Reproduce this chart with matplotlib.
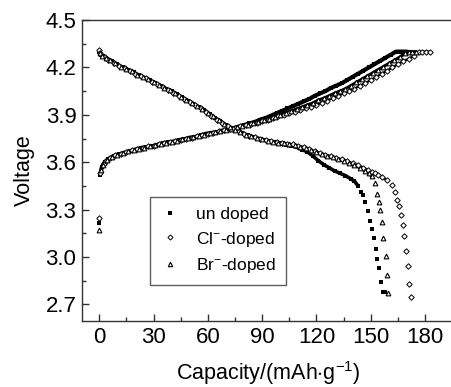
import numpy as np
import matplotlib
matplotlib.use('Agg')
import matplotlib.pyplot as plt
from matplotlib.ticker import MultipleLocator

plt.rcParams['font.family'] = ['Liberation Sans', 'DejaVu Sans']
plt.rcParams['mathtext.fontset'] = 'custom'
plt.rcParams['mathtext.rm'] = 'Liberation Sans'
plt.rcParams['mathtext.it'] = 'Liberation Sans'

# ---- charge curves (capacity, voltage) ----
und_chg_x = [0, 0.5, 1.5, 3, 5, 8, 11, 14, 17, 20, 23, 26, 29, 32, 35, 38, 41, 44, 47,
             50, 53, 56, 59, 62, 65, 68, 71, 74, 77, 80, 83, 86, 89, 92, 95, 98, 101,
             104, 107, 110, 113, 116, 119, 122, 125, 128, 131, 134, 137, 140, 143, 146,
             149, 152, 155, 158, 161, 164, 166, 168, 170]
und_chg_y = [3.216, 3.52, 3.57, 3.60, 3.62, 3.64, 3.65, 3.66, 3.67, 3.68, 3.69, 3.695,
             3.70, 3.71, 3.72, 3.725, 3.73, 3.74, 3.745, 3.755, 3.76, 3.77, 3.78, 3.785,
             3.79, 3.80, 3.81, 3.815, 3.825, 3.835, 3.845, 3.855, 3.87, 3.88, 3.895,
             3.91, 3.925, 3.94, 3.955, 3.97, 3.985, 4.00, 4.02, 4.035, 4.05, 4.07, 4.085,
             4.10, 4.12, 4.14, 4.16, 4.18, 4.20, 4.22, 4.24, 4.26, 4.28, 4.30, 4.30,
             4.30, 4.30]

cl_chg_x = [0, 0.7, 2.5, 4, 6, 9, 12, 15, 18, 21, 24, 27, 30, 33, 36, 39, 42, 45, 48,
            51, 54, 57, 60, 63, 66, 69, 72, 75, 78, 81, 84, 87, 90, 93, 96, 99, 102, 105,
            108, 111, 114, 117, 120, 123, 126, 129, 132, 135, 138, 141, 144, 147, 150,
            153, 156, 159, 162, 165, 168, 171, 174, 176.5, 178.5, 180.5, 182.5]
cl_chg_y = [3.244, 3.53, 3.59, 3.61, 3.625, 3.645, 3.655, 3.665, 3.675, 3.685, 3.69,
            3.70, 3.705, 3.715, 3.72, 3.73, 3.735, 3.74, 3.75, 3.755, 3.765, 3.77, 3.78,
            3.787, 3.795, 3.803, 3.81, 3.818, 3.826, 3.834, 3.842, 3.85, 3.86, 3.868,
            3.88, 3.89, 3.90, 3.91, 3.92, 3.93, 3.94, 3.95, 3.965, 3.975, 3.99, 4.005,
            4.02, 4.035, 4.05, 4.065, 4.085, 4.10, 4.12, 4.14, 4.16, 4.18, 4.20, 4.22,
            4.24, 4.255, 4.275, 4.295, 4.30, 4.30, 4.30]

br_chg_x = [0, 1, 2, 4.5, 7, 10, 13, 16, 19, 22, 25, 28, 31, 34, 37, 40, 43, 46, 49,
            52, 55, 58, 61, 64, 67, 70, 73, 76, 79, 82, 85, 88, 91, 94, 97, 100, 103,
            106, 109, 112, 115, 118, 121, 124, 127, 130, 133, 136, 139, 142, 145, 148,
            151, 154, 157, 160, 163, 166, 169, 171, 173, 175]
br_chg_y = [3.17, 3.55, 3.585, 3.615, 3.635, 3.648, 3.658, 3.668, 3.678, 3.686, 3.692,
            3.70, 3.707, 3.716, 3.723, 3.73, 3.737, 3.745, 3.752, 3.76, 3.767, 3.775,
            3.782, 3.79, 3.797, 3.805, 3.812, 3.82, 3.829, 3.838, 3.847, 3.856, 3.866,
            3.876, 3.888, 3.90, 3.912, 3.925, 3.937, 3.95, 3.962, 3.975, 3.993, 4.005,
            4.02, 4.037, 4.05, 4.065, 4.085, 4.105, 4.125, 4.145, 4.165, 4.185, 4.205,
            4.225, 4.245, 4.265, 4.29, 4.30, 4.30, 4.30]

# ---- discharge curves ----
und_dis_x = [0, 1, 2, 4, 7, 10, 13, 16, 19, 22, 25, 28, 31, 34, 37, 40, 43, 46, 49, 52,
             55, 58, 61, 64, 67, 70, 73, 76, 79, 82, 85, 88, 91, 94, 97, 100, 103, 106,
             109, 112, 115, 118, 121, 124, 127, 130, 133, 136, 139, 141, 143, 144.5,
             145.5, 146.8, 148.3, 149.6, 150.9, 151.8, 152.7, 153.6, 154.7, 155.6, 157,
             157.8]
und_dis_y = [4.30, 4.28, 4.27, 4.26, 4.24, 4.22, 4.20, 4.185, 4.17, 4.15, 4.135, 4.12,
             4.10, 4.085, 4.065, 4.05, 4.03, 4.01, 3.99, 3.97, 3.95, 3.93, 3.905, 3.88,
             3.86, 3.835, 3.815, 3.80, 3.785, 3.77, 3.76, 3.75, 3.74, 3.735, 3.725,
             3.72, 3.71, 3.705, 3.695, 3.68, 3.665, 3.64, 3.61, 3.585, 3.565, 3.545,
             3.53, 3.515, 3.495, 3.48, 3.45, 3.41, 3.39, 3.35, 3.29, 3.23, 3.18, 3.12,
             3.05, 2.99, 2.93, 2.84, 2.78, 2.78]

cl_dis_x = [0, 0.5, 3, 5, 8, 11, 14, 17, 20, 23, 26, 29, 32, 35, 38, 41, 44, 47, 50, 53,
            56, 59, 62, 65, 68, 71, 74, 77, 80, 83, 86, 89, 92, 95, 98, 101, 104, 107,
            110, 113, 116, 119, 122, 125, 128, 131, 134, 137, 140, 143, 146, 148.5,
            150.5, 152.3, 154.2, 156.5, 158.8, 161.5, 163.4, 164.6, 165.7, 166.7,
            167.6, 168.5, 169.4, 170.4, 171.3, 172.2]
cl_dis_y = [4.31, 4.29, 4.265, 4.25, 4.23, 4.21, 4.195, 4.18, 4.16, 4.145, 4.13, 4.11,
            4.095, 4.075, 4.06, 4.04, 4.02, 4.00, 3.98, 3.96, 3.94, 3.92, 3.895, 3.87,
            3.85, 3.83, 3.81, 3.795, 3.78, 3.768, 3.757, 3.748, 3.74, 3.733, 3.727,
            3.722, 3.718, 3.713, 3.705, 3.695, 3.683, 3.67, 3.658, 3.648, 3.638, 3.628,
            3.618, 3.607, 3.594, 3.58, 3.565, 3.55, 3.54, 3.53, 3.52, 3.505, 3.487,
            3.455, 3.41, 3.36, 3.32, 3.265, 3.20, 3.13, 3.04, 2.94, 2.83, 2.75]

br_dis_x = [0.3, 1.5, 3.5, 6, 9, 12, 15, 18, 21, 24, 27, 30, 33, 36, 39, 42, 45, 48, 51,
            54, 57, 60, 63, 66, 69, 72, 75, 78, 81, 84, 87, 90, 93, 96, 99, 102, 105, 108,
            111, 114, 117, 120, 123, 126, 129, 132, 135, 138, 141, 144, 147, 149,
            150.5, 152.3, 153.6, 154.3, 155.1, 156, 157, 158.2, 158.8, 159.7]
br_dis_y = [4.29, 4.275, 4.26, 4.245, 4.225, 4.205, 4.19, 4.175, 4.155, 4.14, 4.125,
            4.105, 4.09, 4.07, 4.055, 4.035, 4.015, 3.995, 3.975, 3.955, 3.935, 3.912,
            3.89, 3.865, 3.843, 3.822, 3.805, 3.79, 3.775, 3.764, 3.754, 3.745, 3.737,
            3.73, 3.724, 3.719, 3.714, 3.708, 3.698, 3.687, 3.675, 3.662, 3.65, 3.64,
            3.63, 3.62, 3.608, 3.595, 3.58, 3.565, 3.545, 3.53, 3.51, 3.466, 3.40, 3.35,
            3.30, 3.22, 3.12, 3.005, 2.885, 2.77]

labels = ['un doped', 'Cl$^{-}$-doped', 'Br$^{-}$-doped']

# where the densely sampled part of each discharge curve ends (mAh/g)
knee = {'und': 143.5, 'cl': 159, 'br': 151}

fig = plt.figure(figsize=(4.52, 3.87), dpi=100)
ax = fig.add_axes([82 / 452, 66 / 387, 372 / 452, 301 / 387])


def band(x, y, lw, xmin=None, xmax=None):
    # dark band under the dense markers, as in the scanned figure
    x = np.asarray(x)
    y = np.asarray(y)
    m = np.ones(len(x), bool)
    if xmin is not None:
        m &= x > xmin
    if xmax is not None:
        m &= x < xmax
    ax.plot(x[m], y[m], '-', color='k', lw=lw, solid_capstyle='round')


band(und_chg_x, und_chg_y, 3.0, xmin=0.2)
band(br_chg_x, br_chg_y, 2.2, xmin=0.2)
band(cl_chg_x, cl_chg_y, 1.6, xmin=0.2)
band(und_dis_x, und_dis_y, 2.6, xmax=knee['und'])
band(br_dis_x, br_dis_y, 2.2, xmax=knee['br'])
band(cl_dis_x, cl_dis_y, 1.6, xmax=knee['cl'])

# undoped: small filled squares
ax.plot(und_chg_x, und_chg_y, 's', color='k', ms=2.8, mew=0)
ax.plot(und_dis_x, und_dis_y, 's', color='k', ms=2.8, mew=0)
# Cl-doped: small open diamonds
ax.plot(cl_chg_x, cl_chg_y, 'D', mfc='white', mec='k', ms=2.8, mew=0.7)
ax.plot(cl_dis_x, cl_dis_y, 'D', mfc='white', mec='k', ms=2.8, mew=0.7)
# Br-doped: small open triangles
ax.plot(br_chg_x, br_chg_y, '^', mfc='white', mec='k', ms=3.4, mew=0.8)
ax.plot(br_dis_x, br_dis_y, '^', mfc='white', mec='k', ms=3.4, mew=0.8)

# legend proxies
h1, = ax.plot([], [], 's', color='k', ms=2.6, mew=0)
h2, = ax.plot([], [], 'D', mfc='white', mec='k', ms=2.6, mew=0.7)
h3, = ax.plot([], [], '^', mfc='white', mec='k', ms=3.2, mew=0.8)
leg = ax.legend([h1, h2, h3], labels, loc='upper left',
                bbox_to_anchor=((150 - 82) / 372, (321 - 197) / 301),
                frameon=True, fancybox=False, edgecolor='#333333',
                fontsize=12.5, handlelength=1.2, handletextpad=0.9,
                labelspacing=0.45, borderpad=0.55, borderaxespad=0)
leg.get_frame().set_linewidth(1.0)

ax.set_xlim(-9.5, 196)
ax.set_ylim(2.595, 4.5)
ax.xaxis.set_major_locator(MultipleLocator(30))
ax.xaxis.set_minor_locator(MultipleLocator(15))
ax.yaxis.set_minor_locator(MultipleLocator(0.15))
ax.set_yticks(np.arange(2.7, 4.51, 0.3))
ax.set_yticklabels(['%.1f' % v for v in np.arange(2.7, 4.51, 0.3)])
ax.tick_params(which='both', direction='in', labelsize=16, color='#333333',
               top=False, right=False)
ax.tick_params(which='major', length=5, width=1.0, pad=4)
ax.tick_params(which='minor', length=3, width=1.0)
for s in ax.spines.values():
    s.set_linewidth(1.0)
    s.set_color('#333333')

ax.set_xlabel('Capacity/(mAh$\\cdot$g$^{-1}$)', fontsize=15.5, labelpad=8)
ax.set_ylabel('Voltage', fontsize=15.5, labelpad=8)

plt.savefig('out.png', dpi=100)
